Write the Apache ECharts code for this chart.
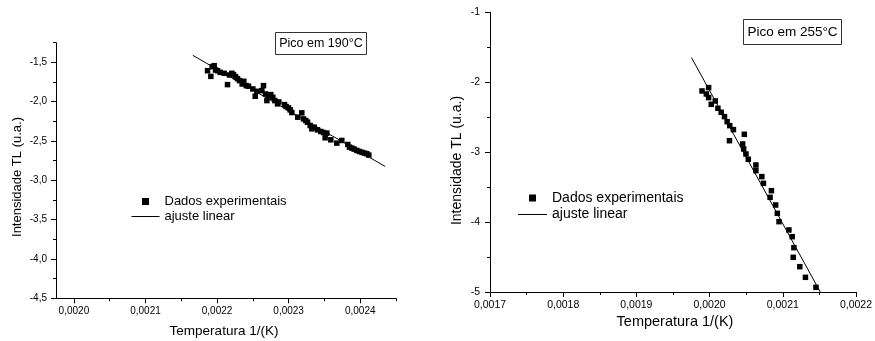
<!DOCTYPE html>
<html><head><meta charset="utf-8">
<script src="https://cdn.jsdelivr.net/npm/echarts@6/dist/echarts.min.js"></script>
<style>html,body{margin:0;padding:0;background:#fff}#c{width:875px;height:341px}</style>
</head><body><div id="c"></div><script>
// ---- Left chart: Pico em 190°C ----
const leftX = [0.0021867,0.0021913,0.0021932,0.0021960,0.0021979,0.0022006,0.0022044,0.0022100,0.0022146,0.0022174,
  0.0022207,0.0022230,0.0022258,0.0022286,0.0022314,0.0022351,0.0022374,0.0022407,0.0022439,0.0022500,
  0.0022533,0.0022556,0.0022626,0.0022649,0.0022677,0.0022696,0.0022719,0.0022751,0.0022779,0.0022807,
  0.0022845,0.0022863,0.0022942,0.0022966,0.0022998,0.0023021,0.0023045,0.0023128,0.0023184,0.0023208,
  0.0023240,0.0023264,0.0023301,0.0023324,0.0023357,0.0023403,0.0023450,0.0023487,0.0023510,0.0023534,
  0.0023589,0.0023673,0.0023743,0.0023827,0.0023850,0.0023883,0.0023915,0.0023953,0.0023990,0.0024027,
  0.0024060,0.0024092,0.0024120];
const leftY = [-1.606,-1.678,-1.555,-1.542,-1.597,-1.606,-1.627,-1.639,-1.783,-1.661,
  -1.639,-1.656,-1.682,-1.707,-1.732,-1.775,-1.741,-1.796,-1.804,-1.838,
  -1.931,-1.868,-1.859,-1.796,-1.902,-1.986,-1.923,-1.910,-1.944,-1.986,
  -2.028,-2.003,-2.037,-2.062,-2.079,-2.104,-2.138,-2.197,-2.142,-2.219,
  -2.240,-2.261,-2.303,-2.345,-2.324,-2.358,-2.379,-2.392,-2.459,-2.400,
  -2.485,-2.527,-2.493,-2.544,-2.578,-2.590,-2.603,-2.620,-2.633,-2.645,
  -2.654,-2.662,-2.679];
const leftFitX = [0.0021662, 0.0024348];
const leftFitY = [-1.411, -2.823];
const leftXTicks = [0.0020,0.0021,0.0022,0.0023,0.0024];
const leftXMinor = [0.00205,0.00215,0.00225,0.00235,0.00245];
const leftYTicks = [-4.5,-4.0,-3.5,-3.0,-2.5,-2.0,-1.5];
const leftYMinor = [-4.25,-3.75,-3.25,-2.75,-2.25,-1.75,-1.25];

// ---- Right chart: Pico em 255°C ----
const rightX = [0.0019897,0.0019956,0.0019987,0.0019987,0.0020023,0.0020078,0.0020114,0.0020159,0.0020204,0.0020240,
  0.0020276,0.0020326,0.0020272,0.0020475,0.0020452,0.0020466,0.0020497,0.0020529,0.0020633,0.0020633,
  0.0020714,0.0020736,0.0020845,0.0020827,0.0020903,0.0020926,0.0020949,0.0021084,0.0021129,0.0021152,
  0.0021143,0.0021233,0.0021310,0.0021454];
const rightY = [-2.125,-2.168,-2.077,-2.220,-2.316,-2.268,-2.373,-2.430,-2.492,-2.564,
  -2.621,-2.678,-2.836,-2.745,-2.883,-2.955,-3.026,-3.102,-3.184,-3.265,
  -3.350,-3.446,-3.551,-3.646,-3.756,-3.875,-3.994,-4.113,-4.209,-4.366,
  -4.504,-4.638,-4.790,-4.933];
const rightFitX = [0.0019753, 0.0021513];
const rightFitY = [-1.648, -5.0];
const rightXTicks = [0.0017,0.0018,0.0019,0.0020,0.0021,0.0022];
const rightXMinor = [0.00175,0.00185,0.00195,0.00205,0.00215];
const rightYTicks = [-5,-4,-3,-2,-1];
const rightYMinor = [-4.5,-3.5,-2.5,-1.5];

const seriesNames = ['Dados experimentais', 'ajuste linear'];
const titles = ['Pico em 190°C', 'Pico em 255°C'];
const xName = 'Temperatura 1/(K)';
const yName = 'Intensidade TL (u.a.)';

const FONT = 'Liberation Sans, Arial, sans-serif';
const BLACK = '#000';
const SQUARE_ICON = 'path://M0,0h10v10h-10z';
const LINE_ICON = 'path://M0,0h28v1h-28z';
const zip = (a, b) => a.map((v, i) => [v, b[i]]);
const commaFmt = d => v => v.toFixed(d).replace('.', ',');

function axisPair(dim, gridIndex, min, max, major, minor, fmt, fontSize, margin) {
  const pos = dim === 'x' ? 'bottom' : 'left';
  return [{
    type: 'value', gridIndex, min, max, position: pos,
    axisLine: { show: true, onZero: false, lineStyle: { color: BLACK, width: 1 } },
    axisTick: { show: true, customValues: major, length: 5, lineStyle: { color: BLACK, width: 1 } },
    axisLabel: { show: true, customValues: major, formatter: fmt, fontSize, color: BLACK, fontFamily: FONT, margin },
    splitLine: { show: false }
  }, {
    type: 'value', gridIndex, min, max, position: pos,
    axisLine: { show: false, onZero: false },
    axisTick: { show: true, customValues: minor, length: 3, lineStyle: { color: BLACK, width: 1 } },
    axisLabel: { show: false },
    splitLine: { show: false }
  }];
}

function legendFor(left, top, itemWidth, gap, fontSize) {
  return {
    orient: 'vertical', left, top, padding: 0, itemWidth, itemHeight: 7, itemGap: gap,
    symbolKeepAspect: true, selectedMode: false,
    data: [{ name: seriesNames[0], icon: SQUARE_ICON }, { name: seriesNames[1], icon: LINE_ICON }],
    textStyle: { fontSize, color: BLACK, fontFamily: FONT }
  };
}

const chart = echarts.init(document.getElementById('c'), null, { renderer: 'canvas' });
chart.setOption({
  animation: false,
  backgroundColor: '#fff',
  grid: [
    { left: 56, top: 42.7, width: 340, height: 255.6 },
    { left: 490, top: 12.3, width: 369.3, height: 279.7 }
  ],
  xAxis: [
    ...axisPair('x', 0, 0.001975, 0.00245, leftXTicks, leftXMinor, commaFmt(4), 10, 8),
    ...axisPair('x', 1, 0.0017, 0.0022, rightXTicks, rightXMinor, commaFmt(4), 10.5, 8)
  ],
  yAxis: [
    ...axisPair('y', 0, -4.5, -1.25, leftYTicks, leftYMinor, commaFmt(1), 10, 9),
    ...axisPair('y', 1, -5, -1, rightYTicks, rightYMinor, commaFmt(0), 10.5, 10)
  ],
  legend: [
    legendFor(131.5, 195, 28, 2, 13),
    legendFor(518, 191, 29, 2.5, 14)
  ],
  series: [
    { name: seriesNames[0], type: 'scatter', xAxisIndex: 0, yAxisIndex: 0, symbol: 'rect', symbolSize: 5.5,
      itemStyle: { color: BLACK, opacity: 1 }, data: zip(leftX, leftY) },
    { name: seriesNames[1], type: 'line', xAxisIndex: 0, yAxisIndex: 0, symbol: 'none',
      lineStyle: { color: BLACK, width: 1 }, itemStyle: { color: BLACK }, data: zip(leftFitX, leftFitY) },
    { name: seriesNames[0], type: 'scatter', xAxisIndex: 2, yAxisIndex: 2, symbol: 'rect', symbolSize: 5.5,
      itemStyle: { color: BLACK, opacity: 1 }, data: zip(rightX, rightY) },
    { name: seriesNames[1], type: 'line', xAxisIndex: 2, yAxisIndex: 2, symbol: 'none',
      lineStyle: { color: BLACK, width: 1 }, itemStyle: { color: BLACK }, data: zip(rightFitX, rightFitY) }
  ],
  graphic: [
    { type: 'rect', shape: { x: 275.5, y: 32.5, width: 91, height: 22 },
      style: { fill: '#fff', stroke: '#333', lineWidth: 1 } },
    { type: 'text', x: 321, y: 43.5,
      style: { text: titles[0], fontSize: 12.5, fontFamily: FONT, fill: BLACK, align: 'center', verticalAlign: 'middle' } },
    { type: 'rect', shape: { x: 743.5, y: 19.5, width: 98, height: 25 },
      style: { fill: '#fff', stroke: '#333', lineWidth: 1 } },
    { type: 'text', x: 792.5, y: 32,
      style: { text: titles[1], fontSize: 13.5, fontFamily: FONT, fill: BLACK, align: 'center', verticalAlign: 'middle' } },
    { type: 'text', x: 224, y: 331.5,
      style: { text: xName, fontSize: 13.5, fontFamily: FONT, fill: BLACK, align: 'center', verticalAlign: 'middle' } },
    { type: 'text', x: 17, y: 177, rotation: Math.PI / 2,
      style: { text: yName, fontSize: 13, fontFamily: FONT, fill: BLACK, align: 'center', verticalAlign: 'middle' } },
    { type: 'text', x: 675, y: 321.5,
      style: { text: xName, fontSize: 14.5, fontFamily: FONT, fill: BLACK, align: 'center', verticalAlign: 'middle' } },
    { type: 'text', x: 457, y: 160.5, rotation: Math.PI / 2,
      style: { text: yName, fontSize: 14, fontFamily: FONT, fill: BLACK, align: 'center', verticalAlign: 'middle' } }
  ]
});
</script></body></html>
